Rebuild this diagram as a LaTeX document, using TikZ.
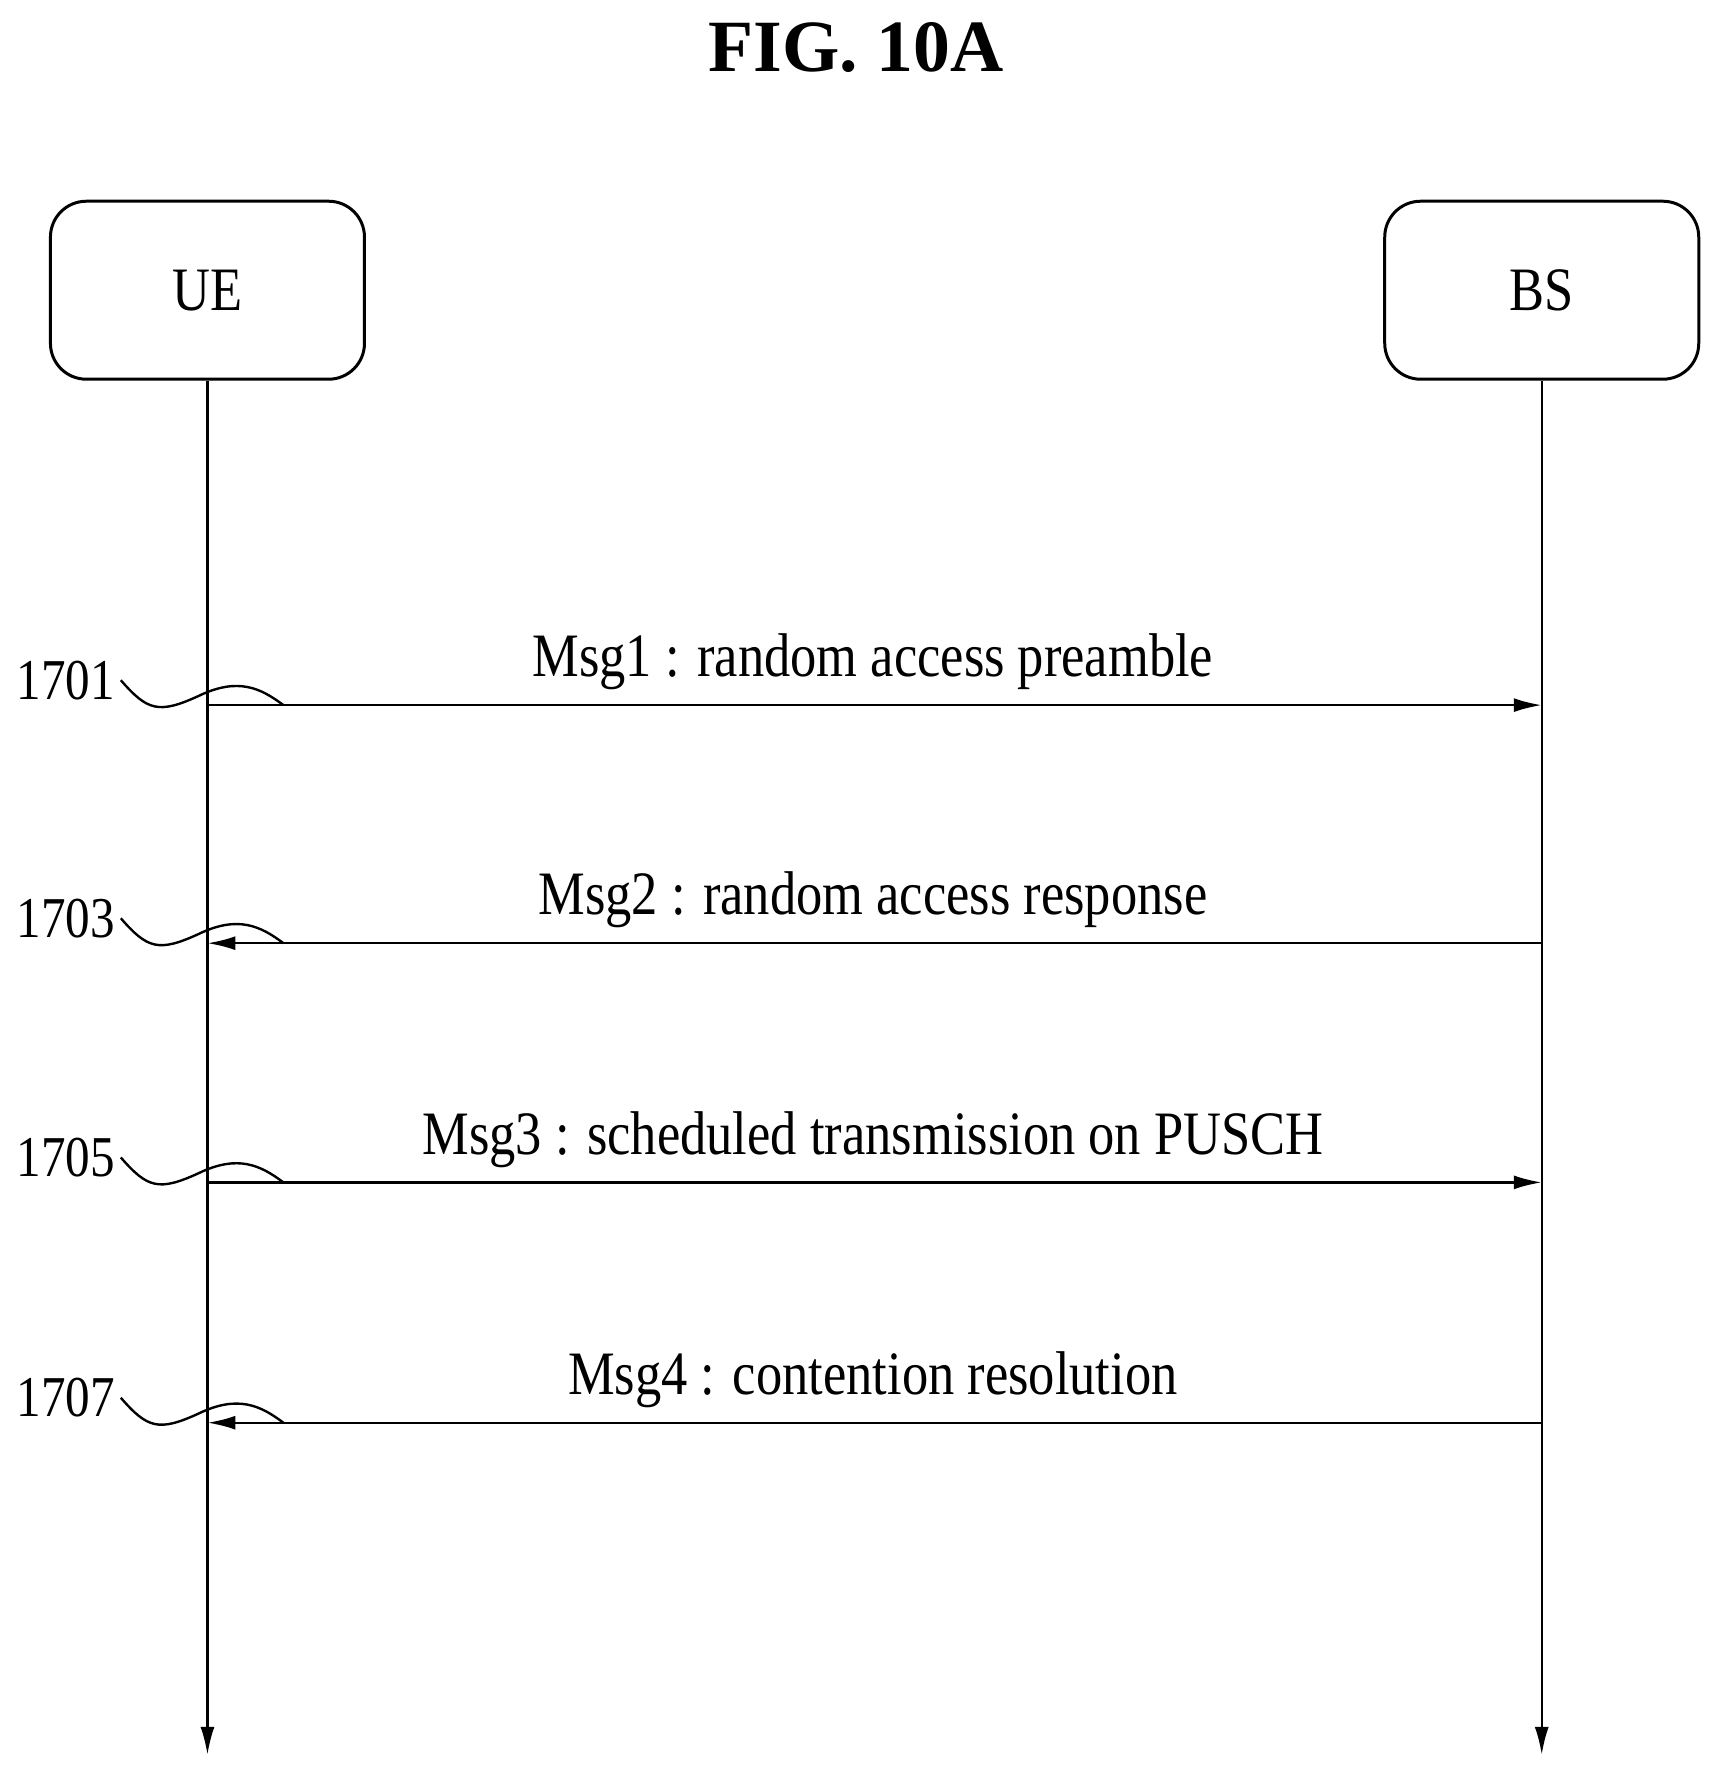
\documentclass[tikz,border=0pt]{standalone}
\usepackage{fontspec}
\setmainfont{Liberation Serif}
\usetikzlibrary{arrows.meta}
\begin{document}
\begin{tikzpicture}[x=0.02cm,y=-0.02cm,
  box/.style={draw,line width=1.5pt,rounded corners=18pt,minimum width=277*0.02cm,minimum height=157*0.02cm,font=\fontsize{30}{30}\selectfont,xscale=0.9},
  msg/.style={draw,line width=1.2pt,-{Latex[length=14pt,width=7pt]}},
  life/.style={draw,line width=1.2pt,-{Latex[length=14pt,width=7pt]}},
  lbl/.style={font=\fontsize{31}{31}\selectfont,xscale=0.85},
  num/.style={font=\fontsize{29}{29}\selectfont,xscale=0.85},
  sq/.style={draw,line width=1.2pt}]
\useasboundingbox (0,0) rectangle (1530,1579);
\node[font=\bfseries\fontsize{37}{37}\selectfont] (title) at (755,42) {FIG. 10A};
\node[draw,line width=1.5pt,rounded corners=18pt,minimum width=277*0.02cm,minimum height=157*0.02cm,font=\fontsize{31}{31}\selectfont] (ue) at (183,256) {\scalebox{0.85}[1]{UE}};
\node[draw,line width=1.5pt,rounded corners=18pt,minimum width=277*0.02cm,minimum height=157*0.02cm,font=\fontsize{31}{31}\selectfont] (bs) at (1360,256) {\scalebox{0.85}[1]{BS}};
\coordinate (ueend) at (183,1548);
\coordinate (bsend) at (1360,1548);
\path[life] (ue.south) -- (ueend);
\path[life] (bs.south) -- (bsend);
\foreach \y/\n/\t/\dir in {622/1701/{Msg1 : random access preamble}/r,832/1703/{Msg2 : random access response}/l,1043/1705/{Msg3 : scheduled transmission on PUSCH}/r,1255/1707/{Msg4 : contention resolution}/l}{
  \coordinate (a\n) at (183,\y);
  \coordinate (b\n) at (1360,\y);
  \if r\dir \path[msg] (a\n) -- (b\n); \else \path[msg] (b\n) -- (a\n); \fi
  \node[lbl] (l\n) at (770,\y-38) {\t};
  \node[num] (n\n) at (58,\y-22) {\n};
  \path[sq] (n\n.east) .. controls (130,\y+5) and (140,\y+8) .. (175,\y-8) .. controls (210,\y-25) and (230,\y-15) .. (250,\y);
}
\end{tikzpicture}
\end{document}
